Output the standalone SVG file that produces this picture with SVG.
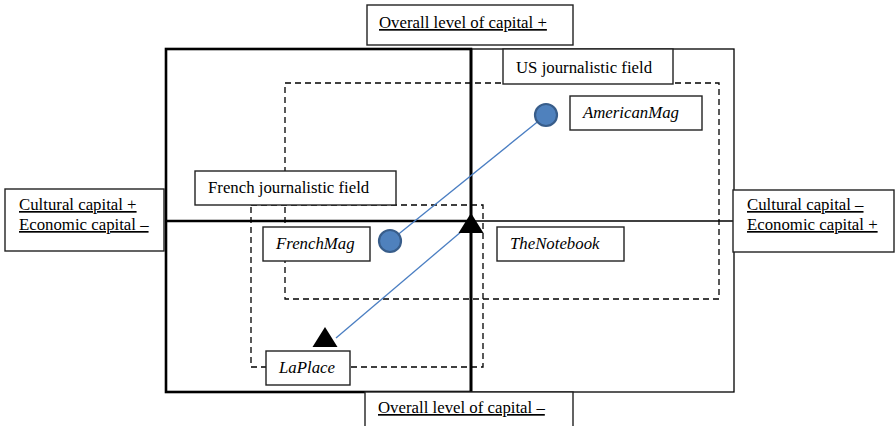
<svg xmlns="http://www.w3.org/2000/svg" width="896" height="426" viewBox="0 0 896 426">
<style>
text{font-family:'Liberation Serif','Times New Roman',serif;font-size:16.8px;fill:#000}
.u{text-decoration:underline}
.i{font-style:italic}
.box{fill:#fff;stroke:#222;stroke-width:1.4}
.dash{fill:none;stroke:#000;stroke-width:1.3;stroke-dasharray:6,4}
.thick{fill:none;stroke:#000;stroke-width:2.6}
.thin{fill:none;stroke:#000;stroke-width:1.3}
.link{stroke:#4A7EC2;stroke-width:1.3;fill:none}
.dot{fill:#4F81BD;stroke:#385D8A;stroke-width:2.2}
.tri{fill:#000}
</style>
<g id="frame">
<rect class="thin" x="471" y="49" width="263" height="343"/>
<line class="thin" x1="471" y1="221" x2="734" y2="221"/>
<rect class="thick" x="166" y="49" width="305" height="343"/>
<line class="thick" x1="166" y1="221" x2="471" y2="221"/>
<line class="thick" x1="471" y1="49" x2="471" y2="392"/>
</g>
<g id="us-field"><rect class="dash" x="285" y="83" width="434" height="216"/></g>
<g id="french-field"><rect class="dash" x="251" y="205" width="232" height="162"/></g>
<g id="axis-top"><rect class="box" x="367" y="5" width="206" height="40"/><text class="u" x="379" y="28">Overall level of capital +</text></g>
<g id="axis-bottom"><rect class="box" x="365" y="392" width="208" height="40"/><text class="u" x="378" y="413">Overall level of capital –</text></g>
<g id="axis-left"><rect class="box" x="5" y="189" width="159" height="62"/><text class="u" x="19" y="210">Cultural capital +</text><text class="u" x="19" y="230">Economic capital –</text></g>
<g id="axis-right"><rect class="box" x="733" y="190" width="161" height="62"/><text class="u" x="747" y="210">Cultural capital –</text><text class="u" x="747" y="230">Economic capital +</text></g>
<g id="us-label"><rect class="box" x="503" y="49" width="170" height="35"/><text x="516" y="73">US journalistic field</text></g>
<g id="french-label"><rect class="box" x="195" y="171" width="201" height="34"/><text x="208" y="193">French journalistic field</text></g>
<g id="connectors">
<line class="link" x1="546" y1="115" x2="390" y2="241"/>
<line class="link" x1="336" y1="338" x2="462" y2="231"/>
</g>
<g id="americanmag"><circle class="dot" cx="546" cy="115" r="11"/><rect class="box" x="570" y="96" width="132" height="34"/><text class="i" x="583" y="118">AmericanMag</text></g>
<g id="frenchmag"><circle class="dot" cx="390" cy="241" r="11"/><rect class="box" x="263" y="227" width="107" height="34"/><text class="i" x="276" y="249">FrenchMag</text></g>
<g id="thenotebook"><polygon class="tri" points="471,213 483.5,233 458.5,233"/><rect class="box" x="497" y="227" width="127" height="34"/><text class="i" x="510" y="249">TheNotebook</text></g>
<g id="laplace"><polygon class="tri" points="325,327 337.5,347 312.5,347"/><rect class="box" x="266" y="351" width="84" height="34"/><text class="i" x="279" y="373">LaPlace</text></g>
</svg>
